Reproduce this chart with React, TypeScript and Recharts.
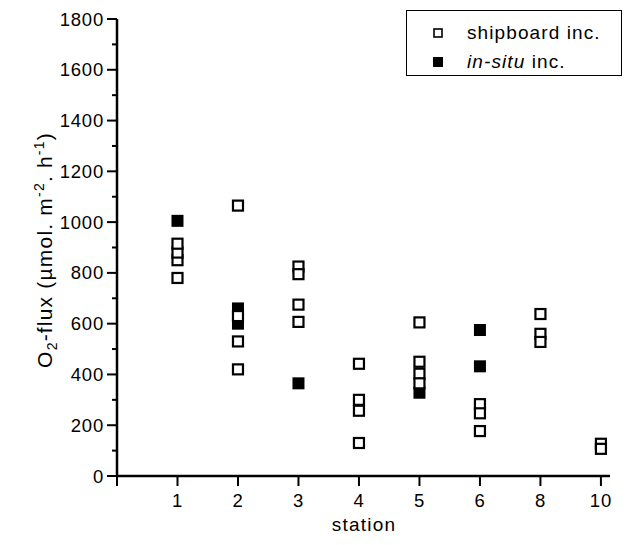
import React from "react";
import { ScatterChart, Scatter, XAxis, YAxis, Legend, Label } from "recharts";

const stations = ["1", "2", "3", "4", "5", "6", "8", "10"];
// O2 flux per station, one inner list per station
const shipboardFlux = [
  [780, 850, 880, 915],
  [1065, 630, 530, 420],
  [825, 795, 675, 607],
  [442, 300, 257, 130],
  [605, 450, 403, 365],
  [283, 247, 177],
  [638, 560, 528],
  [127, 107],
];
const inSituFlux = [[1005], [660, 600], [365], [], [328], [575, 432], [], []];
const yTicks = [0, 100, 200, 300, 400, 500, 600, 700, 800, 900, 1000, 1100, 1200, 1300, 1400, 1500, 1600, 1700, 1800];
const xTicks = [0, 1, 2, 3, 4, 5, 6, 7, 8];

const FONT = "'Liberation Sans', Arial, Helvetica, sans-serif";

const toPoints = (rows: number[][]) =>
  rows.flatMap((vals, i) => vals.map((v) => ({ x: i + 1, y: v })));

const shipboardData = toPoints(shipboardFlux);
const inSituData = toPoints(inSituFlux);

const OpenSquare = (props: any) => (
  <rect x={props.cx - 5} y={props.cy - 5} width={10} height={10} fill="#fff" stroke="#000" strokeWidth={2.2} />
);
const FilledSquare = (props: any) => (
  <rect x={props.cx - 6} y={props.cy - 6} width={12} height={12} fill="#000" />
);

const YTick = (props: any) => {
  const { x, y, payload } = props;
  const major = payload.value % 200 === 0;
  return (
    <g>
      <line x1={x - (major ? 10 : 5)} x2={x} y1={y} y2={y} stroke="#000" strokeWidth={2} />
      {major && (
        <text x={x - 13} y={y + 6.5} textAnchor="end" fontSize={18.5} letterSpacing={0.8} fontFamily={FONT} fill="#000">
          {payload.value}
        </text>
      )}
    </g>
  );
};

const XTick = (props: any) => {
  const { x, y, payload } = props;
  const label = payload.value === 0 ? "" : stations[payload.value - 1];
  return (
    <text x={x} y={y + 21} textAnchor="middle" fontSize={18.5} letterSpacing={0.8} fontFamily={FONT} fill="#000">
      {label}
    </text>
  );
};

const LegendBox = (props: any) => {
  const items = (props.payload || []).slice().reverse();
  return (
    <div
      style={{
        border: "1.5px solid #000",
        width: 216,
        height: 66,
        boxSizing: "border-box",
        fontFamily: FONT,
        fontSize: 19,
        letterSpacing: 1.1,
        color: "#000",
        paddingTop: 7,
      }}
    >
      {items.map((it: any) => {
        const filled = it.value !== "shipboard inc.";
        return (
          <div key={it.value} style={{ display: "flex", alignItems: "center", height: 29 }}>
            <svg width={60} height={29}>
              {filled ? (
                <rect x={26} y={10} width={10} height={10} fill="#000" />
              ) : (
                <rect x={27} y={11} width={8} height={8} fill="#fff" stroke="#000" strokeWidth={1.6} />
              )}
            </svg>
            <span>
              {filled ? (
                <>
                  <i>in-situ</i> inc.
                </>
              ) : (
                it.value
              )}
            </span>
          </div>
        );
      })}
    </div>
  );
};

export default function App() {
  return (
    <div style={{ position: "absolute", left: 0, top: 0 }}>
      <ScatterChart width={626} height={545} margin={{ top: 19, right: 16, bottom: 39, left: 57 }}>
        <XAxis
          type="number"
          dataKey="x"
          domain={[0, 8.15]}
          ticks={xTicks}
          interval={0}
          tick={<XTick />}
          tickSize={10}
          tickMargin={0}
          tickLine={{ stroke: "#000", strokeWidth: 2 }}
          axisLine={{ stroke: "#000", strokeWidth: 2.5 }}
          height={30}
        >
          <Label
            content={() => (
              <text x={364} y={531} textAnchor="middle" fontSize={19} letterSpacing={1.2} fontFamily={FONT} fill="#000">
                station
              </text>
            )}
          />
        </XAxis>
        <YAxis
          type="number"
          dataKey="y"
          domain={[0, 1800]}
          ticks={yTicks}
          interval={0}
          tick={<YTick />}
          tickSize={0}
          tickMargin={0}
          tickLine={false}
          axisLine={{ stroke: "#000", strokeWidth: 2.5 }}
          width={60}
        >
          <Label
            content={() => (
              <text
                x={52}
                y={250}
                transform="rotate(-90, 52, 250)"
                textAnchor="middle"
                fontSize={21}
                letterSpacing={1.2}
                fontFamily={FONT}
                fill="#000"
              >
                O
                <tspan fontSize={14} dy={5}>2</tspan>
                <tspan dy={-5}>-flux (µmol. m</tspan>
                <tspan fontSize={14} dy={-8}>-2</tspan>
                <tspan dy={8}>. h</tspan>
                <tspan fontSize={14} dy={-8}>-1</tspan>
                <tspan dy={8}>)</tspan>
              </text>
            )}
          />
        </YAxis>
        <Legend
          layout="horizontal"
          verticalAlign="middle"
          align="center"
          content={<LegendBox />}
          wrapperStyle={{ left: 406, top: 10, width: 218, height: 68 }}
        />
        <Scatter name="in-situ inc." data={inSituData} shape={FilledSquare} isAnimationActive={false} />
        <Scatter name="shipboard inc." data={shipboardData} shape={OpenSquare} isAnimationActive={false} />
      </ScatterChart>
    </div>
  );
}
